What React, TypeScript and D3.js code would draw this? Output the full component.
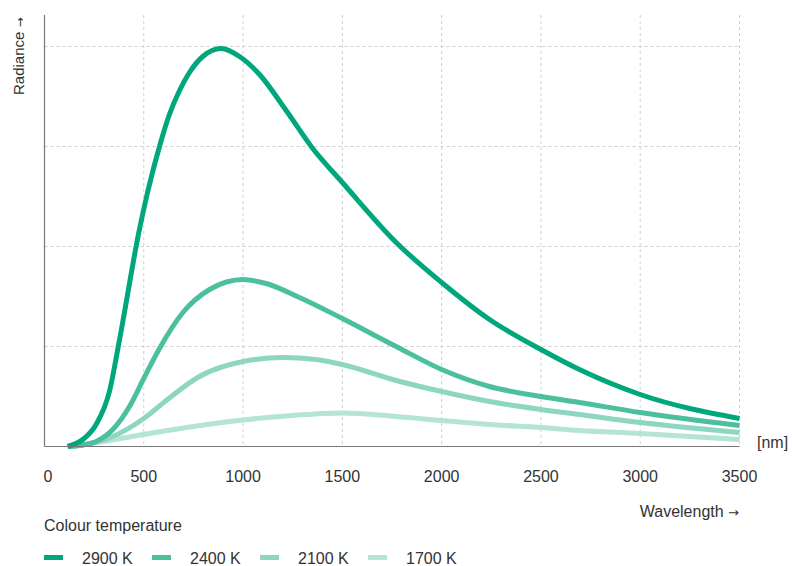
import React, { useEffect, useRef } from "react";
import * as d3 from "d3";

const xTicks = [0, 500, 1000, 1500, 2000, 2500, 3000, 3500];
const yGrid = [1, 2, 3, 4];

const series2900: [number, number][] = [
  [116, 0], [193, 0.07], [260, 0.22], [327, 0.55], [378, 1.07], [478, 2.17], [520, 2.55],
  [579, 3.0], [629, 3.32], [680, 3.56], [730, 3.74], [797, 3.9], [890, 3.98], [982, 3.9],
  [1083, 3.72], [1217, 3.36], [1351, 2.98], [1500, 2.64], [1771, 2.04], [2000, 1.64],
  [2241, 1.27], [2500, 0.97], [2694, 0.77], [3000, 0.52], [3500, 0.28],
];
const series2400: [number, number][] = [
  [120, 0], [176, 0.01], [260, 0.05], [344, 0.17], [428, 0.4], [500, 0.68], [579, 0.98],
  [697, 1.34], [831, 1.57], [1000, 1.67], [1116, 1.63], [1284, 1.49], [1500, 1.28],
  [1771, 1.0], [2000, 0.77], [2241, 0.6], [2500, 0.5], [2694, 0.44], [3000, 0.34], [3500, 0.21],
];
const series2100: [number, number][] = [
  [120, 0], [176, 0.01], [344, 0.1], [500, 0.28], [613, 0.46], [780, 0.7], [1000, 0.85],
  [1200, 0.89], [1368, 0.87], [1500, 0.82], [1771, 0.66], [2000, 0.55], [2241, 0.45],
  [2500, 0.37], [2694, 0.32], [3000, 0.24], [3500, 0.14],
];
const series1700: [number, number][] = [
  [120, 0], [260, 0.04], [500, 0.12], [750, 0.2], [1000, 0.265], [1250, 0.31], [1500, 0.335],
  [1771, 0.3], [2000, 0.26], [2241, 0.22], [2500, 0.19], [2694, 0.16], [3000, 0.13], [3500, 0.07],
];

const seriesLabels = ["2900 K", "2400 K", "2100 K", "1700 K"];
const seriesColors = ["#00a67c", "#4cc09e", "#8dd6bf", "#b3e4d5"];
const seriesData = [series2900, series2400, series2100, series1700];

const W = 798;
const H = 566;
const FONT = "'Liberation Sans', Arial, sans-serif";
const ARROW_FONT = "'DejaVu Sans', sans-serif";

export default function App() {
  const ref = useRef<SVGSVGElement>(null);

  useEffect(() => {
    const svg = d3.select(ref.current);
    svg.selectAll("*").remove();

    const x = d3.scaleLinear().domain([0, 3500]).range([44.5, 739.5]);
    const y = d3.scaleLinear().domain([0, 4]).range([446.5, 46.5]);
    const top = 15;

    const g = svg.append("g");
    g.selectAll(".vg")
      .data(xTicks.filter((d) => d > 0))
      .enter()
      .append("line")
      .attr("x1", (d) => x(d))
      .attr("x2", (d) => x(d))
      .attr("y1", top)
      .attr("y2", y(0))
      .attr("stroke", "#cfcfcf")
      .attr("stroke-width", 1)
      .attr("stroke-dasharray", "3,3");
    g.selectAll(".hg")
      .data(yGrid)
      .enter()
      .append("line")
      .attr("x1", x(0))
      .attr("x2", x(3500))
      .attr("y1", (d) => y(d))
      .attr("y2", (d) => y(d))
      .attr("stroke", "#cfcfcf")
      .attr("stroke-width", 1)
      .attr("stroke-dasharray", "3,3");

    const line = d3
      .line<[number, number]>()
      .x((d) => x(d[0]))
      .y((d) => y(d[1]))
      .curve(d3.curveMonotoneX);
    for (let i = seriesData.length - 1; i >= 0; i--) {
      svg
        .append("path")
        .attr("d", line(seriesData[i]) as string)
        .attr("fill", "none")
        .attr("stroke", seriesColors[i])
        .attr("stroke-width", 5)
        .attr("stroke-linejoin", "round");
    }

    svg
      .append("line")
      .attr("x1", x(0))
      .attr("x2", x(0))
      .attr("y1", top)
      .attr("y2", y(0))
      .attr("stroke", "#777")
      .attr("stroke-width", 1.2);
    svg
      .append("line")
      .attr("x1", x(0))
      .attr("x2", x(3500))
      .attr("y1", y(0))
      .attr("y2", y(0))
      .attr("stroke", "#777")
      .attr("stroke-width", 1.2);

    svg
      .selectAll(".xt")
      .data(xTicks)
      .enter()
      .append("text")
      .attr("x", (d) => (d === 0 ? x(d) - 1 : x(d)))
      .attr("y", 482)
      .attr("text-anchor", (d) => (d === 0 ? "start" : "middle"))
      .attr("font-family", FONT)
      .attr("font-size", 16)
      .attr("fill", "#333")
      .text((d) => String(d));

    svg
      .append("text")
      .attr("x", 757)
      .attr("y", 448)
      .attr("font-family", FONT)
      .attr("font-size", 16)
      .attr("fill", "#333")
      .text("[nm]");

    const wl = svg
      .append("text")
      .attr("x", 739)
      .attr("y", 517)
      .attr("text-anchor", "end")
      .attr("font-family", FONT)
      .attr("font-size", 16)
      .attr("fill", "#333");
    wl.append("tspan").text("Wavelength ");
    wl.append("tspan").attr("font-family", ARROW_FONT).attr("font-size", 13).text("→");

    const rad = svg
      .append("text")
      .attr("transform", "translate(24,95) rotate(-90)")
      .attr("text-anchor", "start")
      .attr("font-family", FONT)
      .attr("font-size", 15)
      .attr("fill", "#333");
    rad.append("tspan").text("Radiance ");
    rad.append("tspan").attr("font-family", ARROW_FONT).attr("font-size", 12).text("→");

    svg
      .append("text")
      .attr("x", 44)
      .attr("y", 531)
      .attr("font-family", FONT)
      .attr("font-size", 16)
      .attr("fill", "#333")
      .text("Colour temperature");

    const leg = svg
      .selectAll(".leg")
      .data(seriesLabels)
      .enter()
      .append("g")
      .attr("transform", (_d, i) => `translate(${44 + i * 108},0)`);
    leg
      .append("line")
      .attr("x1", 0)
      .attr("x2", 19)
      .attr("y1", 557.5)
      .attr("y2", 557.5)
      .attr("stroke", (_d, i) => seriesColors[i])
      .attr("stroke-width", 5);
    leg
      .append("text")
      .attr("x", 38)
      .attr("y", 563.5)
      .attr("font-family", FONT)
      .attr("font-size", 16)
      .attr("fill", "#333")
      .text((d) => d);
  }, []);

  return (
    <svg
      ref={ref}
      width={W}
      height={H}
      style={{ position: "absolute", left: 0, top: 0, background: "#fff" }}
    />
  );
}
